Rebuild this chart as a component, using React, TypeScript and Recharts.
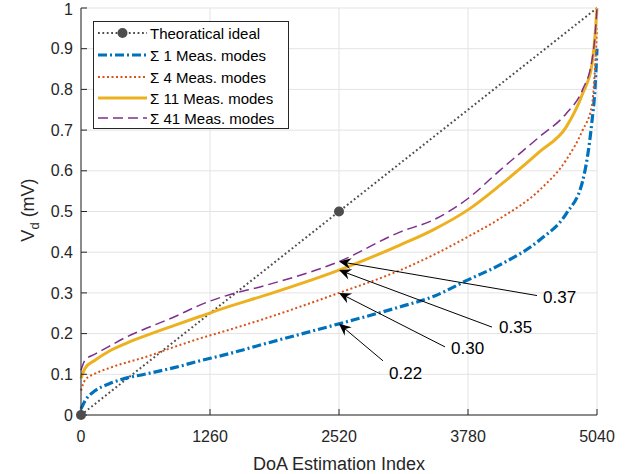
import React from "react";
import {
  LineChart,
  Line,
  XAxis,
  YAxis,
  CartesianGrid,
  Legend,
  ReferenceDot,
} from "recharts";

// sample positions along the DoA estimation index
const indexX = [0, 40, 140, 270, 430, 600, 920, 1160, 1390, 1810, 2520, 3120, 3440, 3780, 4100, 4480, 4740, 4900, 4990, 5020, 5040];

const meas1 = [0.015, 0.035, 0.06, 0.076, 0.09, 0.099, 0.117, 0.133, 0.147, 0.176, 0.224, 0.266, 0.291, 0.332, 0.37, 0.43, 0.495, 0.575, 0.72, 0.8, 0.9];
const meas4 = [0.06, 0.086, 0.102, 0.115, 0.128, 0.14, 0.168, 0.188, 0.205, 0.238, 0.3, 0.356, 0.393, 0.438, 0.484, 0.553, 0.627, 0.7, 0.76, 0.85, 0.95];
const meas11 = [0.09, 0.115, 0.135, 0.156, 0.175, 0.192, 0.221, 0.242, 0.262, 0.295, 0.356, 0.418, 0.455, 0.504, 0.566, 0.647, 0.708, 0.79, 0.86, 0.93, 1.0];
const meas41 = [0.11, 0.135, 0.15, 0.168, 0.19, 0.209, 0.242, 0.27, 0.291, 0.319, 0.377, 0.45, 0.479, 0.532, 0.603, 0.684, 0.741, 0.8, 0.87, 0.93, 1.0];

const idealX = [0, 2520, 5040];
const idealY = [0, 0.5, 1];
const idealMarkers = [0, 2520];

const xTicks = [0, 1260, 2520, 3780, 5040];
const yTicks = [0, 0.1, 0.2, 0.3, 0.4, 0.5, 0.6, 0.7, 0.8, 0.9, 1];

const annotX = 2520;
const annotLabels = ["0.37", "0.35", "0.30", "0.22"];

const FONT = "'Liberation Sans', Arial, Helvetica, sans-serif";
const AX = "#262626";

const series = [
  { key: "m1", name: "1 Meas. modes", vals: meas1, color: "#0072BD", width: 3.2, dash: "9 3 2 3" },
  { key: "m4", name: "4 Meas. modes", vals: meas4, color: "#D95319", width: 2, dash: "2 2.5" },
  { key: "m11", name: "11 Meas. modes", vals: meas11, color: "#EDB120", width: 3, dash: undefined },
  { key: "m41", name: "41 Meas. modes", vals: meas41, color: "#7E2F8E", width: 1.5, dash: "10 5" },
];

const idealData = idealX.map((x, i) => ({ x, y: idealY[i] }));
const seriesData = series.map((s) => indexX.map((x, i) => ({ x, y: s.vals[i] })));

// pixel offsets of the label/arrow tail from the arrow tip
const annotOffsets = [
  { lx: 198, ly: 34, tx: 204, ty: 41 },
  { lx: 153, ly: 57, tx: 160, ty: 63 },
  { lx: 106, ly: 54, tx: 112, ty: 61 },
  { lx: 44, ly: 37, tx: 50, ty: 55 },
];
const annotSeries = [3, 2, 1, 0];

function Arrow(props: any) {
  const { cx, cy, off, label } = props;
  if (cx == null || cy == null) return null;
  const sx = cx + off.lx;
  const sy = cy + off.ly;
  const len = Math.hypot(sx - cx, sy - cy);
  const ux = (cx - sx) / len;
  const uy = (cy - sy) / len;
  const nx = -uy;
  const ny = ux;
  const L = 12;
  const W = 5.5;
  const back = 4;
  const pts = [
    [cx, cy],
    [cx - ux * L + nx * W, cy - uy * L + ny * W],
    [cx - ux * (L - back), cy - uy * (L - back)],
    [cx - ux * L - nx * W, cy - uy * L - ny * W],
  ]
    .map((p) => p.join(","))
    .join(" ");
  return (
    <g>
      <line x1={sx} y1={sy} x2={cx - ux * 6} y2={cy - uy * 6} stroke="#000" strokeWidth={1} />
      <polygon points={pts} fill="#000" />
      <text x={cx + off.tx} y={cy + off.ty} fontSize={17} fontFamily={FONT} fill="#000">
        {label}
      </text>
    </g>
  );
}

function IdealDot(props: any) {
  const { cx, cy, payload } = props;
  if (!idealMarkers.includes(payload.x)) return <g />;
  return <circle cx={cx} cy={cy} r={5} fill="#4d4d4d" />;
}

function LegendBox() {
  const rowY = [12, 34, 56, 77, 97];
  return (
    <svg width={196} height={108} style={{ display: "block" }}>
      <rect x={0.5} y={0.5} width={195} height={107} fill="#fff" stroke={AX} strokeWidth={1} />
      <line x1={5} x2={54} y1={rowY[0]} y2={rowY[0]} stroke="#4d4d4d" strokeWidth={2} strokeDasharray="1.8 2.6" />
      <circle cx={29.5} cy={rowY[0]} r={5} fill="#4d4d4d" />
      <text x={57} y={rowY[0] + 5.5} fontSize={15} fontFamily={FONT} fill="#000">
        Theoratical ideal
      </text>
      {series.map((s, i) => (
        <g key={s.key}>
          <line
            x1={5}
            x2={54}
            y1={rowY[i + 1]}
            y2={rowY[i + 1]}
            stroke={s.color}
            strokeWidth={s.width}
            strokeDasharray={s.dash}
          />
          <text x={57} y={rowY[i + 1] + 5.5} fontSize={15} fontFamily={FONT} fill="#000">
            {"\u03A3 " + s.name}
          </text>
        </g>
      ))}
    </svg>
  );
}

function YLabel(props: any) {
  return (
    <text
      transform="translate(34,210) rotate(-90)"
      textAnchor="middle"
      fontSize={18}
      fontFamily={FONT}
      fill={AX}
    >
      V<tspan fontSize={13} dy={5}>d</tspan>
      <tspan dy={-5}> (mV)</tspan>
    </text>
  );
}

export default function App() {
  const tickStyle = { fontSize: 16, fontFamily: FONT, fill: AX };
  return (
    <div style={{ position: "absolute", left: 0, top: 0, width: 634, height: 474, background: "#fff" }}>
      <LineChart width={634} height={474} margin={{ top: 8, right: 37, left: 0, bottom: 0 }}>
        <CartesianGrid stroke="#e3e3e3" strokeWidth={1} />
        <XAxis
          type="number"
          dataKey="x"
          domain={[0, 5040]}
          ticks={xTicks}
          height={59}
          stroke={AX}
          tick={tickStyle}
          tickSize={-6}
          tickMargin={22}
          label={{ value: "DoA Estimation Index", position: "insideBottom", offset: 4, fontSize: 18, fontFamily: FONT, fill: AX }}
        />
        <XAxis
          xAxisId="top"
          orientation="top"
          type="number"
          dataKey="x"
          domain={[0, 5040]}
          ticks={xTicks}
          allowDataOverflow
          height={0}
          stroke={AX}
          tick={false}
          tickSize={-6}
        />
        <YAxis
          type="number"
          domain={[0, 1]}
          ticks={yTicks}
          width={81}
          stroke={AX}
          tick={tickStyle}
          tickSize={-6}
          tickMargin={14}
          tickFormatter={(v: number) => (v === 0 ? "0" : v === 1 ? "1" : v.toFixed(1))}
          label={<YLabel />}
        />
        <YAxis
          yAxisId="right"
          orientation="right"
          type="number"
          domain={[0, 1]}
          ticks={yTicks}
          allowDataOverflow
          width={0}
          stroke={AX}
          tick={false}
          tickSize={-6}
        />
        <Line
          data={idealData}
          dataKey="y"
          type="linear"
          stroke="#4d4d4d"
          strokeWidth={2}
          strokeDasharray="1.8 2.6"
          dot={false}
          activeDot={false}
          isAnimationActive={false}
        />
        {series.map((s, i) => (
          <Line
            key={s.key}
            data={seriesData[i]}
            dataKey="y"
            name={s.name}
            type="monotone"
            stroke={s.color}
            strokeWidth={s.width}
            strokeDasharray={s.dash}
            dot={false}
            activeDot={false}
            isAnimationActive={false}
          />
        ))}
        {/* ideal markers drawn on top of the curves */}
        <Line
          data={idealData}
          dataKey="y"
          type="linear"
          stroke="none"
          dot={<IdealDot />}
          activeDot={false}
          isAnimationActive={false}
        />
        {annotLabels.map((lab, i) => {
          const sIdx = annotSeries[i];
          const y = series[sIdx].vals[indexX.indexOf(annotX)];
          return (
            <ReferenceDot
              key={lab}
              x={annotX}
              y={y}
              r={0}
              ifOverflow="visible"
              shape={(p: any) => <Arrow {...p} off={annotOffsets[i]} label={lab} />}
            />
          );
        })}
        <Legend
          layout="vertical"
          align="center"
          verticalAlign="middle"
          content={() => <LegendBox />}
          wrapperStyle={{ position: "absolute", left: 93, top: 21, width: 196, height: 108 }}
        />
      </LineChart>
    </div>
  );
}
